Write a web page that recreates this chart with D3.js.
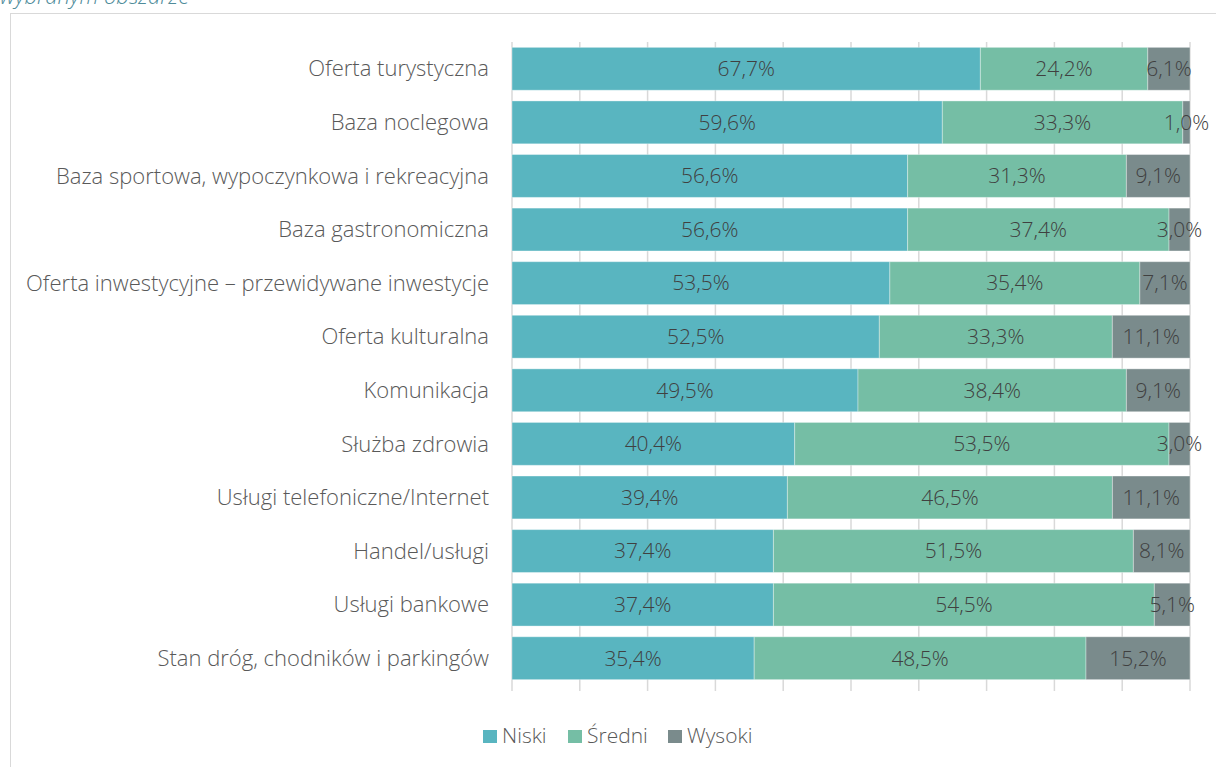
<!DOCTYPE html>
<html>
<head>
<meta charset="utf-8">
<script src="https://cdn.jsdelivr.net/npm/d3@7"></script>
<style>
  body { margin: 0; background: #fff; }
  svg { display: block; font-family: "Open Sans", sans-serif; font-weight: 300; }
</style>
</head>
<body>
<svg id="chart" width="1216" height="767"></svg>
<script>
var categories = [
  "Oferta turystyczna",
  "Baza noclegowa",
  "Baza sportowa, wypoczynkowa i rekreacyjna",
  "Baza gastronomiczna",
  "Oferta inwestycyjne – przewidywane inwestycje",
  "Oferta kulturalna",
  "Komunikacja",
  "Służba zdrowia",
  "Usługi telefoniczne/Internet",
  "Handel/usługi",
  "Usługi bankowe",
  "Stan dróg, chodników i parkingów"
];
var niski  = [67.7, 59.6, 56.6, 56.6, 53.5, 52.5, 49.5, 40.4, 39.4, 37.4, 37.4, 35.4];
var sredni = [24.2, 33.3, 31.3, 37.4, 35.4, 33.3, 38.4, 53.5, 46.5, 51.5, 54.5, 48.5];
var wysoki = [6.1, 1.0, 9.1, 3.0, 7.1, 11.1, 9.1, 3.0, 11.1, 8.1, 5.1, 15.2];
var seriesNames = ["Niski", "Średni", "Wysoki"];
var seriesColors = ["#59b5c0", "#75bea5", "#7a8b8c"];

var svg = d3.select("#chart");

// title, cut by the top edge as in the source
svg.append("text")
  .attr("x", 0).attr("y", 4)
  .attr("fill", "#4f8c9a")
  .attr("font-size", 22)
  .attr("font-style", "italic")
  .text("wybranym obszarze");

// outer frame
svg.append("rect")
  .attr("x", 10.5).attr("y", 13.5)
  .attr("width", 1230).attr("height", 800)
  .attr("fill", "none")
  .attr("stroke", "#d9d9d9")
  .attr("stroke-width", 1);

var margin = { left: 512, top: 42 };
var plotW = 678, plotH = 643;

var g = svg.append("g").attr("transform", "translate(" + margin.left + "," + margin.top + ")");

var x = d3.scaleLinear().domain([0, 1]).range([0, plotW]);
var y = d3.scaleBand().domain(categories).range([0, plotH]).paddingInner(0.2).paddingOuter(0.1);

var rows = categories.map(function(c, i) {
  return { cat: c, Niski: niski[i], "Średni": sredni[i], Wysoki: wysoki[i] };
});
// 100% stacked: every row fills the full width
var stacked = d3.stack().keys(seriesNames).offset(d3.stackOffsetExpand)(rows);

// gridlines with small ticks below
g.append("g")
  .selectAll("line")
  .data(x.ticks(10))
  .enter().append("line")
    .attr("x1", function(d) { return x(d); })
    .attr("x2", function(d) { return x(d); })
    .attr("y1", 0)
    .attr("y2", plotH + 6)
    .attr("stroke", "#d9d9d9")
    .attr("stroke-width", 1.5);

var layers = g.selectAll(".layer")
  .data(stacked).enter()
  .append("g")
    .attr("class", "layer")
    .attr("fill", function(d, i) { return seriesColors[i]; });

layers.selectAll("rect")
  .data(function(d) { return d.map(function(p) { p.key = d.key; return p; }); })
  .enter().append("rect")
    .attr("x", function(d) { return x(d[0]); })
    .attr("y", function(d) { return y(d.data.cat); })
    .attr("width", function(d) { return x(d[1]) - x(d[0]); })
    .attr("height", y.bandwidth())
    .attr("stroke", "#ffffff")
    .attr("stroke-opacity", 0.35)
    .attr("stroke-width", 1);

layers.selectAll("text")
  .data(function(d) { return d; })
  .enter().append("text")
    .attr("x", function(d) { return (x(d[0]) + x(d[1])) / 2; })
    .attr("y", function(d) { return y(d.data.cat) + y.bandwidth() / 2; })
    .attr("dy", "0.35em")
    .attr("text-anchor", "middle")
    .attr("fill", "#404040")
    .attr("font-size", 21)
    .text(function(d) { return d.data[d.key].toFixed(1).replace(".", ",") + "%"; });

// category labels
g.append("g")
  .selectAll("text")
  .data(categories)
  .enter().append("text")
    .attr("x", -23)
    .attr("y", function(d) { return y(d) + y.bandwidth() / 2; })
    .attr("dy", "0.35em")
    .attr("text-anchor", "end")
    .attr("fill", "#595959")
    .attr("font-size", 22)
    .text(function(d) { return d; });

// legend
var legend = svg.append("g").attr("transform", "translate(483,736)");
var legendX = [0, 85, 185];
var item = legend.selectAll("g")
  .data(seriesNames)
  .enter().append("g")
    .attr("transform", function(d, i) { return "translate(" + legendX[i] + ",0)"; });
item.append("rect")
  .attr("x", 0).attr("y", -6)
  .attr("width", 14).attr("height", 13)
  .attr("fill", function(d, i) { return seriesColors[i]; });
item.append("text")
  .attr("x", 19).attr("y", 0)
  .attr("dy", "0.35em")
  .attr("fill", "#595959")
  .attr("font-size", 21)
  .text(function(d) { return d; });
</script>
</body>
</html>
